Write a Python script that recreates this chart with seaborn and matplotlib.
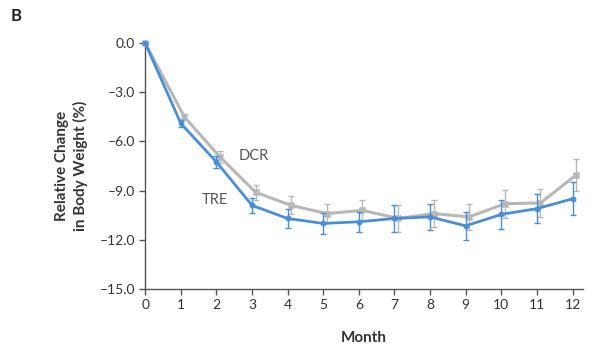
import numpy as np
import pandas as pd
import matplotlib
matplotlib.use('Agg')
import matplotlib.pyplot as plt
import seaborn as sns

# Data
months = [0, 1, 2, 3, 4, 5, 6, 7, 8, 9, 10, 11, 12]
tre_mean = [0.0, -4.9, -7.25, -9.9, -10.7, -11.0, -10.9, -10.7, -10.6, -11.15, -10.45, -10.1, -9.5]
tre_err = [0.0, 0.2, 0.35, 0.45, 0.6, 0.65, 0.6, 0.85, 0.8, 0.85, 0.9, 0.9, 1.0]
dcr_mean = [0.0, -4.5, -6.95, -9.1, -9.9, -10.4, -10.2, -10.7, -10.4, -10.6, -9.8, -9.75, -8.05]
dcr_err = [0.0, 0.2, 0.35, 0.45, 0.55, 0.6, 0.65, 0.85, 0.8, 0.8, 0.85, 0.85, 0.95]
yticks = [0.0, -3.0, -6.0, -9.0, -12.0, -15.0]

blue = '#4a8fd6'
gray = '#b8b8b8'

sns.set_style('ticks')
plt.rcParams['font.family'] = ['Lato', 'DejaVu Sans']

df = pd.DataFrame({
    'Month': months * 2,
    'Change': tre_mean + dcr_mean,
    'Group': ['TRE'] * len(months) + ['DCR'] * len(months),
})
# small horizontal offset for DCR so the error bars don't overlap
df['x'] = df['Month'] + np.where(df['Group'] == 'DCR', 0.1, 0.0)
df.loc[(df['Group'] == 'DCR') & (df['Month'] == 0), 'x'] = 0.0

fig = plt.figure(figsize=(6, 3.59), dpi=100)
ax = fig.add_axes([0.242, 0.195, 0.73, 0.685])

dcr = df[df['Group'] == 'DCR']
tre = df[df['Group'] == 'TRE']
ax.errorbar(dcr['x'], dcr['Change'], yerr=dcr_err, fmt='none', ecolor=gray,
            elinewidth=1.0, capsize=2.5, capthick=1.0, clip_on=False, zorder=2)
sns.lineplot(data=dcr, x='x', y='Change', color=gray, linewidth=2.2, marker='X',
             markersize=5, markeredgecolor=gray, ax=ax, clip_on=False, zorder=3)
ax.errorbar(tre['x'], tre['Change'], yerr=tre_err, fmt='none', ecolor=blue,
            elinewidth=1.0, capsize=2.5, capthick=1.0, clip_on=False, zorder=4)
sns.lineplot(data=tre, x='x', y='Change', color=blue, linewidth=2.0, marker='o',
             markersize=3.5, markeredgecolor=blue, ax=ax, clip_on=False, zorder=5)

ax.text(3.05, -6.9, 'DCR', fontsize=10.5, color='#555555', ha='center', va='center')
ax.text(1.95, -9.55, 'TRE', fontsize=10.5, color='#555555', ha='center', va='center')

ax.set_xlim(0, 12.3)
ax.set_ylim(-15, 0)
ax.set_xticks(months)
ax.set_xticklabels([str(m) for m in months], fontsize=10, color='#333333')
ax.set_yticks(yticks)
ax.set_yticklabels([f'{v:.1f}'.replace('-', '\u2013') for v in yticks], fontsize=10, color='#333333')
ax.tick_params(direction='out', length=4, width=1, color='#555555')
for s in ['left', 'bottom']:
    ax.spines[s].set_color('#555555')
    ax.spines[s].set_linewidth(1.0)
sns.despine(ax=ax)

ax.set_xlabel('Month', fontsize=11, fontweight='bold', color='#333333', labelpad=14)
ax.set_ylabel('Relative Change\nin Body Weight (%)', fontsize=11, fontweight='bold',
              color='#333333', labelpad=8, linespacing=1.35)
fig.text(0.017, 0.955, 'B', fontsize=12, fontweight='bold', color='#222222', va='center')

fig.savefig('out.png', dpi=100)
